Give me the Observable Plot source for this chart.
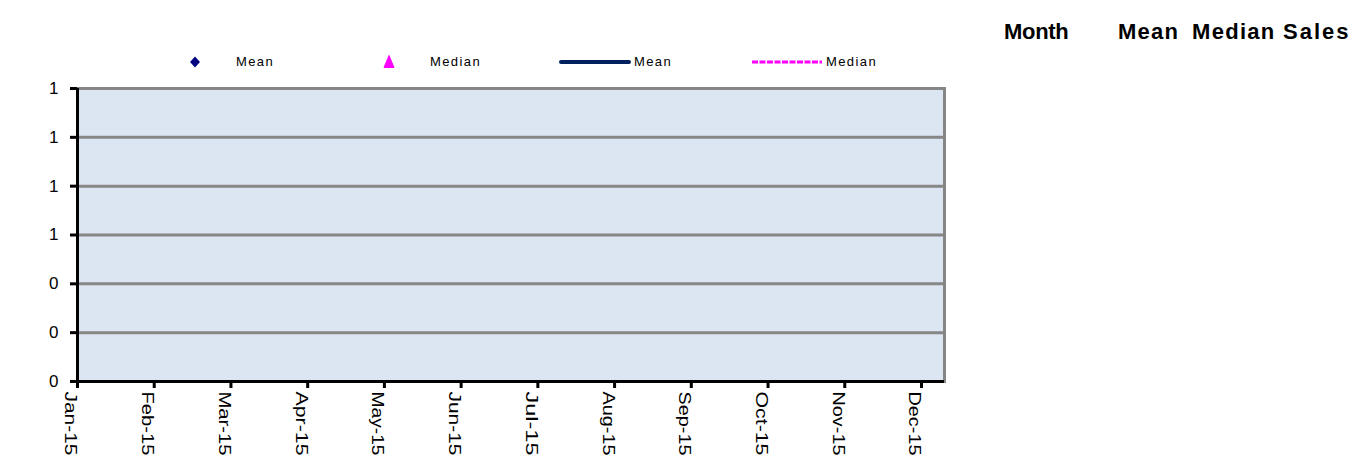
<!DOCTYPE html>
<html>
<head>
<meta charset="utf-8">
<script src="https://cdn.jsdelivr.net/npm/d3@7"></script>
<script src="https://cdn.jsdelivr.net/npm/@observablehq/plot@0.6"></script>
<style>
  html, body { margin: 0; padding: 0; background: #fff; }
  #page { position: relative; width: 1367px; height: 466px; overflow: hidden; font-family: "Liberation Sans", Arial, sans-serif; }
  #chart { position: absolute; left: 0; top: 75px; }
  #legend { position: absolute; left: 0; top: 53px; height: 18px; width: 960px; font-size: 13px; color: #000; }
  #legend .sym, #legend .lab { position: absolute; top: 0; height: 18px; line-height: 18px; }
  #legend .lab { letter-spacing: 1.4px; white-space: nowrap; }
  #legend svg { display: block; }
  #table-head { position: absolute; top: 19px; left: 0; font-weight: bold; font-size: 22px; color: #000; }
  #table-head span { position: absolute; white-space: nowrap; }
</style>
</head>
<body>
<div id="page">
  <div id="table-head"></div>
  <div id="legend"></div>
  <div id="chart"></div>
</div>
<script>
// Monthly categories and the two series (no figures entered yet for 2015)
const months = ["Jan-15", "Feb-15", "Mar-15", "Apr-15", "May-15", "Jun-15",
                "Jul-15", "Aug-15", "Sep-15", "Oct-15", "Nov-15", "Dec-15"];
const meanValues   = [null, null, null, null, null, null, null, null, null, null, null, null];
const medianValues = [null, null, null, null, null, null, null, null, null, null, null, null];

// Value axis ticks (shown with no decimals)
const yTicks = [0, 0.2, 0.4, 0.6, 0.8, 1.0, 1.2];

// Column headings of the side table
const tableColumns = ["Month", "Mean", "Median", "Sales"];

const rows = months.map((m, i) => ({i, month: m, mean: meanValues[i], median: medianValues[i]}));
const monthIndex = d3.range(months.length);

const navy = "#000080";
const darkNavy = "#002060";
const magenta = "#FF00FF";

const chart = Plot.plot({
  width: 960,
  height: 391,
  marginLeft: 77,
  marginRight: 16,
  marginTop: 13,
  marginBottom: 85,
  style: {fontFamily: "Liberation Sans, Arial, sans-serif", background: "transparent", overflow: "visible"},
  x: {type: "linear", domain: [0, 11.3]},
  y: {domain: [0, 1.2]},
  marks: [
    Plot.frame({fill: "#DCE6F2", stroke: "none"}),
    Plot.gridY(yTicks, {stroke: "#868686", strokeWidth: 3, strokeOpacity: 1}),
    // right border of the plot area
    Plot.frame({anchor: "right", stroke: "#868686", strokeWidth: 3}),
    Plot.lineY(rows, {x: "i", y: "mean", stroke: darkNavy, strokeWidth: 3}),
    Plot.lineY(rows, {x: "i", y: "median", stroke: magenta, strokeWidth: 3, strokeDasharray: "4,2"}),
    Plot.dot(rows, {x: "i", y: "mean", symbol: "diamond", fill: navy, r: 4}),
    Plot.dot(rows, {x: "i", y: "median", symbol: "triangle", fill: magenta, r: 4}),
    Plot.axisY({ticks: yTicks, tickFormat: d3.format(".0f"), tickSize: 7, tickPadding: 12,
                fontSize: 17, stroke: "#000", strokeWidth: 3, label: null}),
    // month tick marks
    Plot.axisX({ticks: monthIndex, text: null, tickSize: 7, stroke: "#000", strokeWidth: 3, label: null}),
    // month labels, turned to read downward
    Plot.axisX({ticks: monthIndex, tickFormat: (d) => months[d], tickSize: 0, tickPadding: 10,
                rotate: 90, textAnchor: "start", fontSize: 17, label: null}),
    Plot.ruleX([0], {stroke: "#000", strokeWidth: 3}),
    Plot.ruleY([0], {stroke: "#000", strokeWidth: 3})
  ]
});

// month labels are drawn tall and narrow
d3.select(chart).selectAll("g[aria-label='x-axis tick label'] text")
  .attr("textLength", 64)
  .attr("lengthAdjust", "spacingAndGlyphs");

document.getElementById("chart").appendChild(chart);

// Legend entries: symbol box left edge, symbol width, label left edge
const legendItems = [
  {label: "Mean",   sx: 187, sw: 16, tx: 236, draw: (g) => g.append("path").attr("d", "M8,3.5 L13,9 L8,14.5 L3,9 Z").attr("fill", navy)},
  {label: "Median", sx: 381, sw: 16, tx: 430, draw: (g) => g.append("path").attr("d", "M8,2.5 L13,14.5 L3,14.5 Z").attr("fill", magenta).attr("stroke", magenta).attr("stroke-linejoin", "round")},
  {label: "Mean",   sx: 558, sw: 74, tx: 634, draw: (g) => g.append("line").attr("x1", 3).attr("x2", 71).attr("y1", 9).attr("y2", 9)
                                                        .attr("stroke", darkNavy).attr("stroke-width", 4).attr("stroke-linecap", "round")},
  {label: "Median", sx: 750, sw: 74, tx: 826, draw: (g) => g.append("line").attr("x1", 2).attr("x2", 72).attr("y1", 9).attr("y2", 9)
                                                        .attr("stroke", magenta).attr("stroke-width", 3).attr("stroke-dasharray", "6,1.5")}
];
const legend = d3.select("#legend");
for (const it of legendItems) {
  const s = legend.append("div").attr("class", "sym").style("left", it.sx + "px")
    .append("svg").attr("width", it.sw).attr("height", 18);
  it.draw(s);
  legend.append("div").attr("class", "lab").style("left", it.tx + "px").text(it.label);
}

// Side table header
const colLeft = [1004, 1118, 1192, 1283];
const colSpacing = [-0.3, 1.2, 1.3, 2];
const head = d3.select("#table-head");
tableColumns.forEach((c, k) => head.append("span")
  .style("left", colLeft[k] + "px")
  .style("letter-spacing", colSpacing[k] + "px")
  .text(c));
</script>
</body>
</html>
